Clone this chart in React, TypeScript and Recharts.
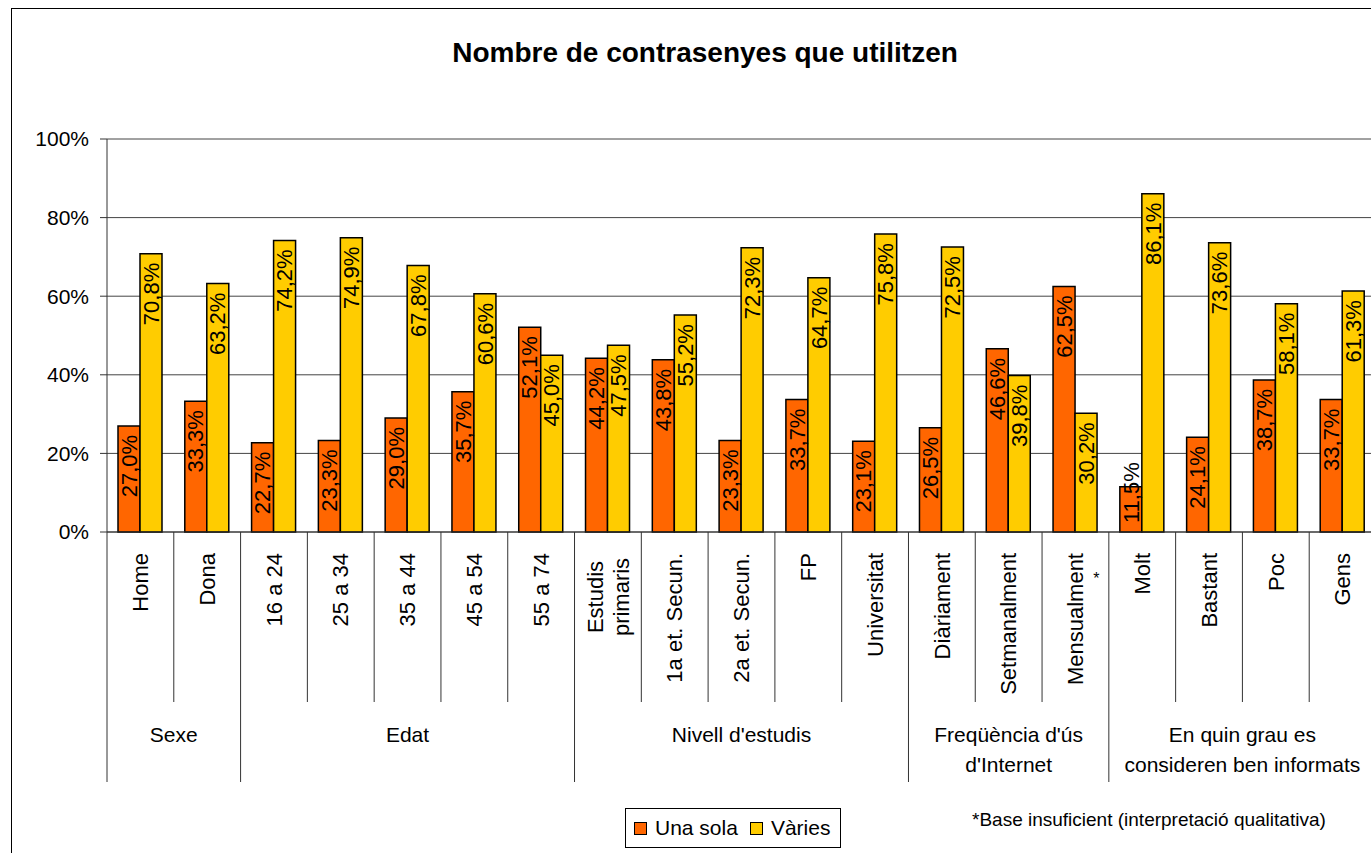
import React from 'react';
import { BarChart, Bar, XAxis, YAxis, CartesianGrid, LabelList } from 'recharts';

const categories = [
  'Home',
  'Dona',
  '16 a 24',
  '25 a 34',
  '35 a 44',
  '45 a 54',
  '55 a 74',
  'Estudis\nprimaris',
  '1a et. Secun.',
  '2a et. Secun.',
  'FP',
  'Universitat',
  'Diàriament',
  'Setmanalment',
  'Mensualment',
  'Molt',
  'Bastant',
  'Poc',
  'Gens',
];
const unaSola = [27.0, 33.3, 22.7, 23.3, 29.0, 35.7, 52.1, 44.2, 43.8, 23.3, 33.7, 23.1, 26.5, 46.6, 62.5, 11.5, 24.1, 38.7, 33.7];
const varies = [70.8, 63.2, 74.2, 74.9, 67.8, 60.6, 45.0, 47.5, 55.2, 72.3, 64.7, 75.8, 72.5, 39.8, 30.2, 86.1, 73.6, 58.1, 61.3];
const groupNames = ['Sexe', 'Edat', "Nivell d'estudis", "Freqüència d'ús\nd'Internet", 'En quin grau es\nconsideren ben informats'];
const groupSizes = [2, 5, 5, 3, 4];
const yTicks = [0, 20, 40, 60, 80, 100];
const lowBaseCategories = ['Mensualment'];

const FONT = '"Liberation Sans", Arial, sans-serif';
const ORANGE = '#FF6600';
const YELLOW = '#FFCC00';

const WIDTH = 1400;
const HEIGHT = 900;
const MARGIN = { top: 139, right: 24, left: 47, bottom: 118 };
const Y_AXIS_WIDTH = 60;
const BAND = (WIDTH - MARGIN.left - MARGIN.right - Y_AXIS_WIDTH) / categories.length;

const data = categories.map((name, i) => ({ name, una: unaSola[i], varies: varies[i] }));

// index of first category -> group index
const groupStarts: Record<number, number> = {};
let acc = 0;
groupSizes.forEach((n, g) => {
  groupStarts[acc] = g;
  acc += n;
});

const fmt = (v: number) => `${v.toFixed(1).replace('.', ',')}%`;

const CategoryTick = (props: any) => {
  const { x, y, payload, index } = props;
  const label: string = payload.value;
  const lines = label.split('\n');
  const left = x - BAND / 2;
  const g = groupStarts[index];
  const isStart = g !== undefined;
  const isLast = index === categories.length - 1;
  const longest = Math.max(...lines.map((l) => l.length));
  return (
    <g>
      <line x1={left} x2={left} y1={y} y2={y + (isStart ? 250 : 170)} stroke="#333" strokeWidth={1} />
      {isLast && <line x1={x + BAND / 2} x2={x + BAND / 2} y1={y} y2={y + 250} stroke="#333" />}
      {lines.map((line, li) => {
        const dx = (li - (lines.length - 1) / 2) * 26;
        const multi = lines.length > 1;
        const ty = multi ? y + 21 + (longest * 22 * 0.5) / 2 : y + 21;
        return (
          <text
            key={li}
            transform={`translate(${x + dx},${ty}) rotate(-90)`}
            textAnchor={multi ? 'middle' : 'end'}
            dy="0.35em"
            fontSize={22}
            fontFamily={FONT}
            fill="#000"
          >
            {line}
          </text>
        );
      })}
      {lowBaseCategories.includes(label) && (
        <text x={x + 21} y={y + 52} textAnchor="middle" fontSize={16} fontFamily={FONT} fill="#000">
          *
        </text>
      )}
      {isStart &&
        groupNames[g].split('\n').map((line, li) => (
          <text
            key={`g${li}`}
            x={left + (groupSizes[g] * BAND) / 2}
            y={y + 210 + li * 30}
            textAnchor="middle"
            fontSize={21}
            fontFamily={FONT}
            fill="#000"
          >
            {line}
          </text>
        ))}
    </g>
  );
};

const ValueLabel = (props: any) => {
  const { x, y, width, height, value } = props;
  const cx = x + width / 2;
  const fits = height > 80;
  const ty = fits ? y + 9 : y + height - 9;
  return (
    <text
      transform={`translate(${cx},${ty}) rotate(-90)`}
      textAnchor={fits ? 'end' : 'start'}
      dy="0.35em"
      fontSize={22}
      fontFamily={FONT}
      fill="#000"
    >
      {fmt(value)}
    </text>
  );
};

const Swatch = ({ color }: { color: string }) => (
  <span
    style={{
      display: 'inline-block',
      width: 11,
      height: 11,
      background: color,
      border: '1px solid #000',
      marginRight: 8,
    }}
  />
);

export default function App() {
  return (
    <div
      style={{
        position: 'absolute',
        left: 0,
        top: 0,
        width: 1371,
        height: 853,
        overflow: 'hidden',
        background: '#fff',
        fontFamily: FONT,
      }}
    >
      <div
        style={{
          position: 'absolute',
          left: 11,
          top: 8,
          width: 1500,
          height: 1000,
          border: '1.5px solid #000',
        }}
      />
      <div
        style={{
          position: 'absolute',
          left: 0,
          top: 37,
          width: 1410,
          textAlign: 'center',
          fontSize: 28,
          lineHeight: '32px',
          fontWeight: 'bold',
          color: '#000',
        }}
      >
        Nombre de contrasenyes que utilitzen
      </div>
      <div style={{ position: 'absolute', left: 0, top: 0 }}>
        <BarChart
          width={WIDTH}
          height={HEIGHT}
          data={data}
          margin={MARGIN}
          barCategoryGap={11}
          barGap={0}
        >
          <CartesianGrid vertical={false} stroke="#444" />
          <XAxis
            dataKey="name"
            height={250}
            interval={0}
            tickSize={0}
            tickMargin={0}
            tickLine={false}
            axisLine={{ stroke: '#333' }}
            tick={<CategoryTick />}
          />
          <YAxis
            width={Y_AXIS_WIDTH}
            domain={[0, 100]}
            ticks={yTicks}
            tickSize={7}
            tickMargin={11}
            tickFormatter={(v: number) => `${v}%`}
            axisLine={{ stroke: '#333' }}
            tickLine={{ stroke: '#333' }}
            tick={{ fontSize: 21, fontFamily: FONT, fill: '#000' }}
          />
          <Bar dataKey="una" name="Una sola" fill={ORANGE} stroke="#000" strokeWidth={1.5} isAnimationActive={false}>
            <LabelList dataKey="una" content={<ValueLabel />} />
          </Bar>
          <Bar dataKey="varies" name="Vàries" fill={YELLOW} stroke="#000" strokeWidth={1.5} isAnimationActive={false}>
            <LabelList dataKey="varies" content={<ValueLabel />} />
          </Bar>
        </BarChart>
      </div>
      <div
        style={{
          position: 'absolute',
          left: 625,
          top: 808,
          width: 216,
          height: 40,
          border: '1px solid #000',
          display: 'flex',
          alignItems: 'center',
          paddingLeft: 8,
          boxSizing: 'border-box',
          fontSize: 21,
          color: '#000',
        }}
      >
        <Swatch color={ORANGE} />
        <span style={{ marginRight: 12 }}>Una sola</span>
        <Swatch color={YELLOW} />
        <span>Vàries</span>
      </div>
      <div
        style={{
          position: 'absolute',
          left: 972,
          top: 809,
          fontSize: 19,
          lineHeight: '22px',
          color: '#000',
        }}
      >
        *Base insuficient (interpretació qualitativa)
      </div>
    </div>
  );
}
